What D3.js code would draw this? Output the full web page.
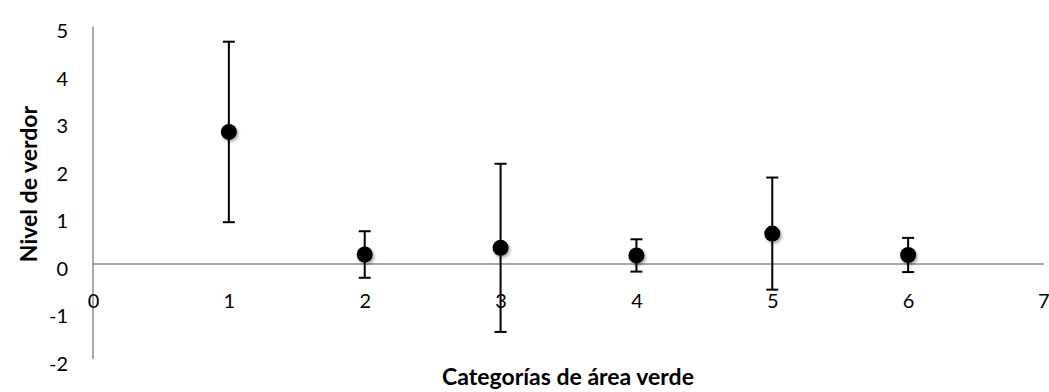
<!DOCTYPE html>
<html>
<head>
<meta charset="utf-8">
<script src="https://cdn.jsdelivr.net/npm/d3@7"></script>
<style>
  html, body { margin: 0; padding: 0; background: #fff; }
  svg { display: block; }
  text { font-family: Lato, "Open Sans", sans-serif; fill: #000; }
</style>
</head>
<body>
<svg id="chart" width="1049" height="392"></svg>
<script>
// Category number, mean level and error-bar half width
const categories = [1, 2, 3, 4, 5, 6];
const means = [2.78, 0.2, 0.34, 0.18, 0.64, 0.19];
const errors = [1.9, 0.49, 1.77, 0.34, 1.18, 0.36];
const xTicks = [0, 1, 2, 3, 4, 5, 6, 7];
const yTicks = [-2, -1, 0, 1, 2, 3, 4, 5];

const svg = d3.select("#chart");

const x = d3.scaleLinear().domain([0, 7]).range([93, 1044]);
const y = d3.scaleLinear().domain([-2, 5]).range([359, 26.5]);

// soft shadow under the markers
const defs = svg.append("defs");
const f = defs.append("filter").attr("id", "shadow")
  .attr("x", "-50%").attr("y", "-50%").attr("width", "200%").attr("height", "200%");
f.append("feDropShadow").attr("dx", 1.5).attr("dy", 2).attr("stdDeviation", 1.6)
  .attr("flood-color", "#000").attr("flood-opacity", 0.35);

// axis lines
svg.append("line")
  .attr("x1", x(0)).attr("x2", x(0))
  .attr("y1", y(5)).attr("y2", y(-2))
  .attr("stroke", "#8c8c8c").attr("stroke-width", 1.5);
svg.append("line")
  .attr("x1", x(0)).attr("x2", x(7))
  .attr("y1", y(0)).attr("y2", y(0))
  .attr("stroke", "#8c8c8c").attr("stroke-width", 1.5);

// y tick labels
const yAxis = d3.axisLeft(y).tickValues(yTicks).tickSize(0).tickPadding(0)
  .tickFormat(d => d < 0 ? "-" + Math.abs(d) : String(d));
const gy = svg.append("g").attr("transform", "translate(68,5)").call(yAxis);
gy.select(".domain").remove();
gy.selectAll("text").style("font-family", "Lato, 'Open Sans', sans-serif")
  .style("font-size", "20px").attr("fill", "#000");

// x tick labels, set below the zero line
const xAxis = d3.axisBottom(x).tickValues(xTicks).tickSize(0).tickPadding(0)
  .tickFormat(d3.format("d"));
const gx = svg.append("g").attr("transform", `translate(0,${y(0) + 30})`).call(xAxis);
gx.select(".domain").remove();
gx.selectAll("text").style("font-family", "Lato, 'Open Sans', sans-serif")
  .style("font-size", "20px").attr("fill", "#000");
gx.selectAll(".tick").filter(d => d === 7).select("text").attr("text-anchor", "end").attr("x", 5);

// error bars
const data = categories.map((c, i) => ({ c, m: means[i], e: errors[i] }));
const cap = 6;
const eb = svg.append("g").attr("stroke", "#000").attr("stroke-width", 2);
eb.selectAll("line.v").data(data).join("line").attr("class", "v")
  .attr("x1", d => x(d.c)).attr("x2", d => x(d.c))
  .attr("y1", d => y(d.m + d.e)).attr("y2", d => y(d.m - d.e));
eb.selectAll("line.t").data(data).join("line").attr("class", "t")
  .attr("x1", d => x(d.c) - cap).attr("x2", d => x(d.c) + cap)
  .attr("y1", d => y(d.m + d.e)).attr("y2", d => y(d.m + d.e));
eb.selectAll("line.b").data(data).join("line").attr("class", "b")
  .attr("x1", d => x(d.c) - cap).attr("x2", d => x(d.c) + cap)
  .attr("y1", d => y(d.m - d.e)).attr("y2", d => y(d.m - d.e));

// markers
svg.append("g").selectAll("circle").data(data).join("circle")
  .attr("cx", d => x(d.c)).attr("cy", d => y(d.m)).attr("r", 8)
  .attr("fill", "#000").attr("filter", "url(#shadow)");

// axis titles
svg.append("text")
  .attr("x", 568).attr("y", 385)
  .attr("text-anchor", "middle")
  .style("font-size", "23px").style("font-weight", "bold")
  .text("Categorías de área verde");

svg.append("text")
  .attr("transform", "translate(37,184) rotate(-90)")
  .attr("text-anchor", "middle")
  .style("font-size", "23px").style("font-weight", "bold")
  .text("Nivel de verdor");
</script>
</body>
</html>
